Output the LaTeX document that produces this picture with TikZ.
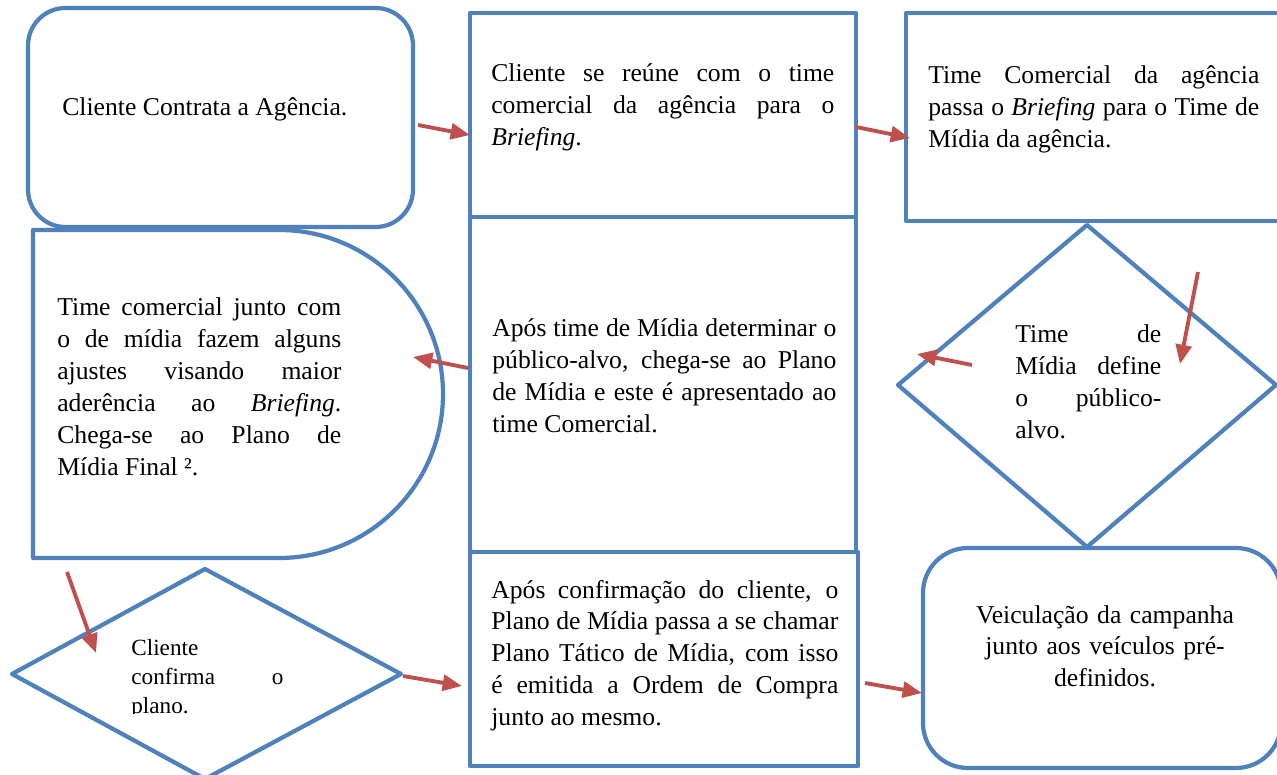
\documentclass[tikz,border=0pt]{standalone}
\usepackage{fontspec}
\setmainfont{Liberation Serif}
\usetikzlibrary{arrows.meta}

\definecolor{azul}{RGB}{79,129,189}
\definecolor{vermelho}{RGB}{192,80,77}

\tikzset{
	forma/.style={draw=azul, line width=2.4pt, line join=round},
	texto/.style={inner sep=0pt, anchor=base west, align=justify, font=\fontsize{14.6}{18.2}\selectfont},
	seta/.style={draw=vermelho, line width=2.2pt, -{Triangle[length=11pt,width=9pt]}},
}

\begin{document}
\begin{tikzpicture}[x=0.2mm, y=-0.2mm]
		\useasboundingbox (0,0) rectangle (1277,775);
		\clip (0,0) rectangle (1277,775);
		% caixas
		\draw[forma, rounded corners=0.75cm] (28,8) rectangle (413,227);
		\draw[forma] (470,13) rectangle (856,217);
		\draw[forma] (906,13) rectangle (1300,221);
		\draw[forma] (470,217) rectangle (856,552);
		\draw[forma] (33,230) -- (279,230) arc[start angle=-90, end angle=90, radius=164] -- (33,558) -- cycle;
		\draw[forma] (1087,225) -- (1276,385) -- (1087,547) -- (898,385) -- cycle;
		\draw[forma] (470,552) rectangle (858,766);
		\draw[forma, rounded corners=0.9cm] (923,548) rectangle (1281,768);
		\draw[forma] (205,569) -- (401,674) -- (205,779) -- (12,674) -- cycle;
		% textos
		\node[texto](contrata) at (62,116) {Cliente Contrata a Agência.};
		\node[texto, text width=6.86cm](reune) at (491,82) {Cliente se reúne com o time\linebreak comercial da agência para o\linebreak \emph{Briefing}.};
		\node[texto, text width=6.62cm](passa) at (928,84) {Time Comercial da agência\linebreak passa o \emph{Briefing} para o Time de\linebreak Mídia da agência.};
		\node[texto, text width=6.88cm](plano) at (492,337) {Após time de Mídia determinar o\linebreak público-alvo, chega-se ao Plano\linebreak de Mídia e este é apresentado ao\linebreak time Comercial.};
		\node[texto, text width=5.68cm](ajustes) at (57,316) {Time comercial junto com\linebreak o de mídia fazem alguns\linebreak ajustes visando maior\linebreak aderência ao \emph{Briefing}.\linebreak Chega-se ao Plano de\linebreak Mídia Final ².};
		\node[texto, text width=2.92cm](define) at (1015,343) {Time de\linebreak Mídia define\linebreak o público-\linebreak alvo.};
		\node[texto, text width=6.94cm](tatico) at (491,598) {Após confirmação do cliente, o\linebreak Plano de Mídia passa a se chamar\linebreak Plano Tático de Mídia, com isso\linebreak é emitida a Ordem de Compra\linebreak junto ao mesmo.};
		\node[texto, anchor=base, align=center, text width=7cm](veiculacao) at (1105,623) {Veiculação da campanha\\ junto aos veículos pré-\\ definidos.};
		\begin{scope}
			\clip (120,630) rectangle (300,713);
			\node[texto, text width=3.04cm, font=\fontsize{13.2}{16.5}\selectfont](confirma) at (131,656) {Cliente\newline confirma o\linebreak plano.};
		\end{scope}
		% setas
		\coordinate (a1) at (418,125); \coordinate (a2) at (470,135);
		\coordinate (b1) at (856,127); \coordinate (b2) at (910,138);
		\coordinate (c1) at (1198,272); \coordinate (c2) at (1180,364);
		\coordinate (d1) at (972,365); \coordinate (d2) at (917,354);
		\coordinate (e1) at (468,368); \coordinate (e2) at (413,357);
		\coordinate (f1) at (67,572); \coordinate (f2) at (96,653);
		\coordinate (g1) at (403,676); \coordinate (g2) at (462,686);
		\coordinate (h1) at (865,683); \coordinate (h2) at (922,693);
		\draw[seta] (a1) -- (a2);
		\draw[seta] (b1) -- (b2);
		\draw[seta] (c1) -- (c2);
		\draw[seta] (d1) -- (d2);
		\draw[seta] (e1) -- (e2);
		\draw[seta] (f1) -- (f2);
		\draw[seta] (g1) -- (g2);
		\draw[seta] (h1) -- (h2);
	\end{tikzpicture}
\end{document}
